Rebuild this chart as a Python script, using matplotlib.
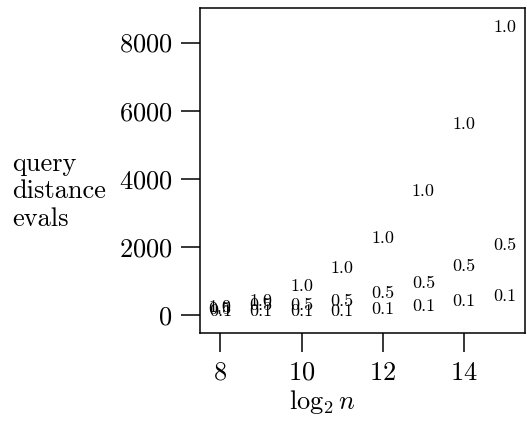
import matplotlib
matplotlib.use("Agg")
import matplotlib.pyplot as plt

# data
log2_n = [8, 9, 10, 11, 12, 13, 14, 15]
evals_10 = [215, 390, 833, 1373, 2255, 3627, 5588, 8441]
evals_05 = [175, 290, 290, 392, 630, 932, 1420, 2030]
evals_01 = [110, 115, 97, 97, 160, 255, 392, 540]
series = [("1.0", evals_10), ("0.5", evals_05), ("0.1", evals_01)]

plt.rcParams['font.family'] = 'serif'
plt.rcParams['font.serif'] = ['cmr10']
plt.rcParams['mathtext.fontset'] = 'cm'
plt.rcParams['axes.formatter.use_mathtext'] = True

fig = plt.figure(figsize=(5.27, 4.22), dpi=100)
ax = fig.add_axes([0.3795, 0.2102, 0.6167, 0.772])

for label, vals in series:
    for x, y in zip(log2_n, vals):
        ax.text(x, y, label, ha='center', va='center', fontsize=13)

ax.set_xlim(7.5, 15.5)
ax.set_ylim(-540, 9030)
ax.set_xticks([8, 10, 12, 14])
ax.set_yticks([0, 2000, 4000, 6000, 8000])
ax.tick_params(direction='out', length=14, width=1.1, labelsize=19, pad=6)
for s in ax.spines.values():
    s.set_linewidth(1.1)

ax.text(0.377, -0.212, r'$\log_2 n$', transform=ax.transAxes,
        ha='center', va='center', fontsize=19)
fig.text(0.023, 0.547, "query\ndistance\nevals", ha='left', va='center',
         fontsize=19, linespacing=1.2)

fig.savefig("out.png", dpi=100)
